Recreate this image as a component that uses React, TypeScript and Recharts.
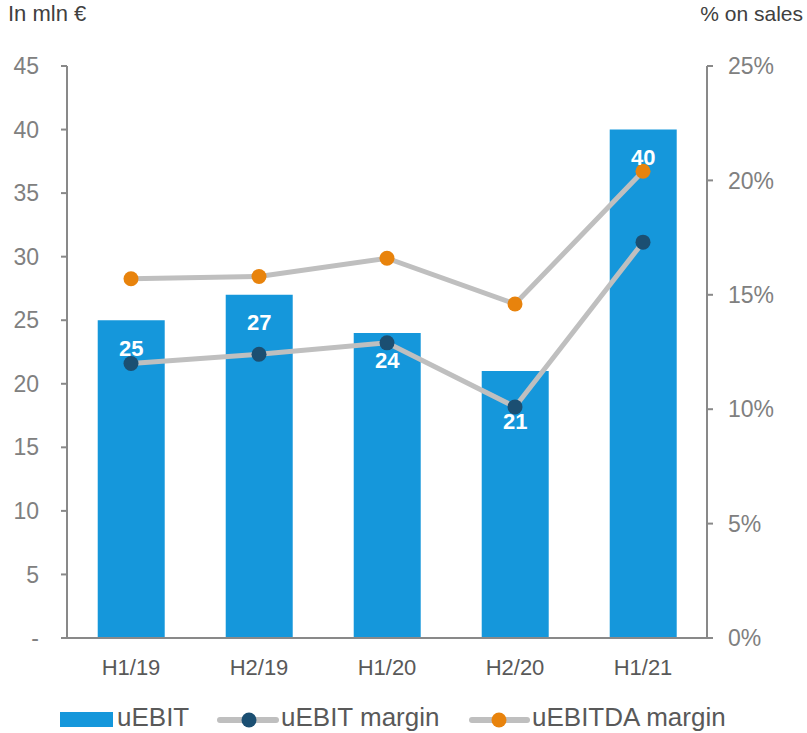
import React from 'react';
import { ComposedChart, Bar, Line, XAxis, YAxis, Legend, LabelList } from 'recharts';

const periods = ['H1/19', 'H2/19', 'H1/20', 'H2/20', 'H1/21'];
const uebit = [25, 27, 24, 21, 40];
const uebitMargin = [12.0, 12.4, 12.9, 10.1, 17.3];
const uebitdaMargin = [15.7, 15.8, 16.6, 14.6, 20.4];
const leftTicks = [0, 5, 10, 15, 20, 25, 30, 35, 40, 45];
const rightTicks = [0, 5, 10, 15, 20, 25];

const data = periods.map((p, i) => ({
  period: p,
  uebit: uebit[i],
  uebitMargin: uebitMargin[i],
  uebitdaMargin: uebitdaMargin[i],
}));

const FONT = '"Liberation Sans", Arial, sans-serif';
const BAR_COLOR = '#1597DB';
const LINE_COLOR = '#BFBFBF';
const DARK_DOT = '#1B4F72';
const ORANGE_DOT = '#E8830C';
const AXIS_COLOR = '#898989';

// the H2/20 label sits lower so it clears the margin line
const labelShift: Record<number, number> = { 3: 22 };

const BarValue = (props: any) => {
  const { x, y, width, value, index } = props;
  return (
    <text
      x={x + width / 2}
      y={y + 28 + (labelShift[index] || 0)}
      textAnchor="middle"
      dominantBaseline="central"
      fill="#fff"
      fontWeight="bold"
      fontSize={22}
      fontFamily={FONT}
    >
      {value}
    </text>
  );
};

const LegendContent = () => (
  <div style={{ position: 'relative', height: 30, fontFamily: FONT, fontSize: 26, color: '#595959', whiteSpace: 'nowrap' }}>
    <div style={{ position: 'absolute', left: 60, top: 8, width: 53, height: 15, background: BAR_COLOR }} />
    <span style={{ position: 'absolute', left: 117, top: -2 }}>uEBIT</span>
    <svg style={{ position: 'absolute', left: 217, top: 4 }} width={62} height={24}>
      <line x1={3} y1={12} x2={59} y2={12} stroke={LINE_COLOR} strokeWidth={6} strokeLinecap="round" />
      <circle cx={32} cy={12} r={7.5} fill={DARK_DOT} />
    </svg>
    <span style={{ position: 'absolute', left: 281, top: -2 }}>uEBIT margin</span>
    <svg style={{ position: 'absolute', left: 469, top: 4 }} width={62} height={24}>
      <line x1={3} y1={12} x2={58} y2={12} stroke={LINE_COLOR} strokeWidth={6} strokeLinecap="round" />
      <circle cx={30} cy={12} r={7.5} fill={ORANGE_DOT} />
    </svg>
    <span style={{ position: 'absolute', left: 532, top: -2 }}>uEBITDA margin</span>
  </div>
);

const App: React.FC = () => {
  return (
    <div style={{ position: 'absolute', left: 0, top: 0, width: 807, height: 733, background: '#fff', fontFamily: FONT }}>
      <div style={{ position: 'absolute', left: 8, top: 1, fontSize: 22, color: '#404040' }}>In mln €</div>
      <div style={{ position: 'absolute', right: 4, top: 2, fontSize: 21, color: '#404040' }}>% on sales</div>
      <ComposedChart
        width={807}
        height={733}
        data={data}
        margin={{ top: 66, right: 0, bottom: 55, left: 0 }}
        barCategoryGap="24%"
      >
        <XAxis
          dataKey="period"
          height={40}
          tickLine={false}
          axisLine={{ stroke: AXIS_COLOR, strokeWidth: 2 }}
          tick={{ fill: '#595959', fontSize: 22, fontFamily: FONT }}
          tickMargin={15}
        />
        <YAxis
          yAxisId="left"
          width={67}
          domain={[0, 45]}
          ticks={leftTicks}
          interval={0}
          tickFormatter={(v: number) => (v === 0 ? '-' : String(v))}
          axisLine={{ stroke: AXIS_COLOR, strokeWidth: 2 }}
          tickLine={{ stroke: AXIS_COLOR, strokeWidth: 2 }}
          tickSize={6}
          tickMargin={22}
          tick={{ fill: '#808080', fontSize: 23, fontFamily: FONT }}
        />
        <YAxis
          yAxisId="right"
          orientation="right"
          width={100}
          domain={[0, 25]}
          ticks={rightTicks}
          interval={0}
          tickFormatter={(v: number) => `${v}%`}
          axisLine={{ stroke: AXIS_COLOR, strokeWidth: 2 }}
          tickLine={{ stroke: AXIS_COLOR, strokeWidth: 2 }}
          tickSize={6}
          tickMargin={15}
          tick={{ fill: '#808080', fontSize: 23, fontFamily: FONT }}
        />
        <Legend
          verticalAlign="middle"
          align="center"
          content={<LegendContent />}
          wrapperStyle={{ top: 704, left: 0, width: 807 }}
        />
        <Bar yAxisId="left" dataKey="uebit" name="uEBIT" fill={BAR_COLOR} isAnimationActive={false}>
          <LabelList dataKey="uebit" content={<BarValue />} />
        </Bar>
        <Line
          yAxisId="right"
          dataKey="uebitMargin"
          name="uEBIT margin"
          stroke={LINE_COLOR}
          strokeWidth={5}
          dot={{ r: 7.5, fill: DARK_DOT, stroke: 'none' }}
          activeDot={false}
          isAnimationActive={false}
        />
        <Line
          yAxisId="right"
          dataKey="uebitdaMargin"
          name="uEBITDA margin"
          stroke={LINE_COLOR}
          strokeWidth={5}
          dot={{ r: 7.5, fill: ORANGE_DOT, stroke: 'none' }}
          activeDot={false}
          isAnimationActive={false}
        />
      </ComposedChart>
    </div>
  );
};

export default App;
